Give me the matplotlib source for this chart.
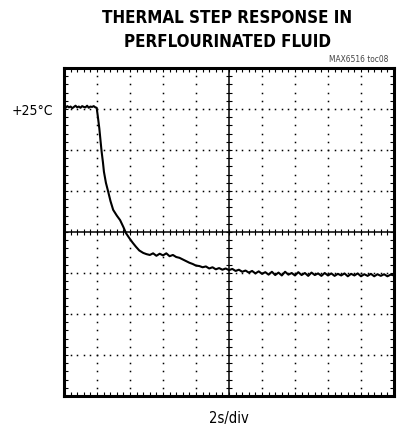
import numpy as np
import matplotlib
matplotlib.use("Agg")
import matplotlib.pyplot as plt

# scope trace (x in 2s divisions, y in vertical divisions)
tiempo_div = [
    0.00, 0.05, 0.10, 0.15, 0.20, 0.25, 0.30, 0.35, 0.40, 0.45,
    0.50, 0.55, 0.60, 0.65, 0.70, 0.75, 0.80, 0.85, 0.90, 0.95, 0.99,
    1.02, 1.07, 1.11, 1.14, 1.18, 1.21, 1.27, 1.34, 1.41, 1.49,
    1.60, 1.70, 1.80, 1.88, 1.98, 2.08, 2.18, 2.28, 2.40,
    2.5, 2.6, 2.7, 2.8, 2.9, 3.0, 3.1, 3.2, 3.3, 3.4,
    3.5, 3.6, 3.7, 3.8, 3.9, 4.0, 4.1, 4.2, 4.3, 4.4,
    4.5, 4.6, 4.7, 4.8, 4.9, 5.0, 5.1, 5.2, 5.3, 5.4,
    5.5, 5.6, 5.7, 5.8, 5.9, 6.0, 6.1, 6.2, 6.3, 6.4,
    6.5, 6.6, 6.7, 6.8, 6.9, 7.0, 7.1, 7.2, 7.3, 7.4,
    7.5, 7.6, 7.7, 7.8, 7.9, 8.0, 8.1, 8.2, 8.3, 8.4,
    8.5, 8.6, 8.7, 8.8, 8.9, 9.0, 9.1, 9.2, 9.3, 9.4,
    9.5, 9.6, 9.7, 9.8, 9.9, 10.0,
]
temp_div = [
    7.05, 7.03, 7.07, 7.04, 7.06, 7.02, 7.05, 7.08, 7.04, 7.06,
    7.03, 7.07, 7.05, 7.04, 7.08, 7.03, 7.06, 7.05, 7.07, 7.04, 7.03,
    6.85, 6.53, 6.20, 5.96, 5.70, 5.47, 5.20, 4.98, 4.75, 4.54,
    4.40, 4.29, 4.12, 3.97, 3.85, 3.74, 3.64, 3.55, 3.49,
    3.46, 3.44, 3.48, 3.42, 3.47, 3.43, 3.48, 3.41, 3.44, 3.39,
    3.37, 3.33, 3.29, 3.25, 3.22, 3.18, 3.17, 3.14, 3.16, 3.11,
    3.14, 3.09, 3.12, 3.08, 3.11, 3.07, 3.10, 3.05, 3.08, 3.03,
    3.06, 3.01, 3.05, 2.99, 3.04, 2.98, 3.02, 2.96, 3.03, 2.95,
    3.01, 2.94, 3.03, 2.96, 3.00, 2.94, 3.02, 2.95, 3.00, 2.93,
    3.01, 2.95, 2.99, 2.93, 3.00, 2.94, 2.99, 2.93, 2.98, 2.94,
    2.99, 2.92, 2.98, 2.94, 2.99, 2.92, 2.97, 2.93, 2.98, 2.92,
    2.97, 2.93, 2.97, 2.92, 2.96, 2.94,
]

titulo = "THERMAL STEP RESPONSE IN\nPERFLOURINATED FLUID"
etiqueta_y = "+25°C"
etiqueta_x = "2s/div"
codigo = "MAX6516 toc08"

fig = plt.figure(figsize=(4.08, 4.29), dpi=100)
ax = fig.add_axes([64 / 408, 1 - 396 / 429, 330 / 408, 328 / 429])

ax.set_xlim(0, 10)
ax.set_ylim(0, 8)

# dotted graticule (dots at every minor division)
paso = np.arange(0.2, 8.0, 0.2)
for gx in range(1, 10):
    if gx == 5:
        continue
    ax.plot(np.full_like(paso, gx), paso, ls="none", marker="s", ms=1.1,
            mec="none", color="black")
paso_x = np.arange(0.2, 10.0, 0.2)
for gy in range(1, 8):
    if gy == 4:
        continue
    ax.plot(paso_x, np.full_like(paso_x, gy), ls="none", marker="s", ms=1.1,
            mec="none", color="black")

# centre cross with small ticks
ax.axhline(4, color="black", lw=1.1)
ax.axvline(5, color="black", lw=1.1)
ax.plot(paso_x, np.full_like(paso_x, 4), ls="none", marker="|", ms=5,
        mew=0.8, color="black")
ax.plot(np.full_like(paso, 5), paso, ls="none", marker="_", ms=5,
        mew=0.8, color="black")

# the trace
ax.plot(tiempo_div, temp_div, color="black", lw=1.5)

ax.set_xticks(np.arange(0, 11, 1))
ax.set_yticks(np.arange(0, 9, 1))
ax.set_xticks(np.arange(0, 10.01, 0.2), minor=True)
ax.set_yticks(np.arange(0, 8.01, 0.2), minor=True)
ax.tick_params(which="both", direction="in", length=3, width=0.8,
               top=True, right=True, labelleft=False, labelbottom=False)
for s in ax.spines.values():
    s.set_linewidth(2.2)

fig.text(227 / 408, 1 - 30 / 429, titulo, ha="center", va="center",
         family="DejaVu Sans", stretch="condensed", weight="bold",
         fontsize=12.2, linespacing=1.45)
fig.text(388 / 408, 1 - 60 / 429, codigo, ha="right", va="center",
         family="DejaVu Sans", stretch="condensed", fontsize=6, color="#444444")
fig.text(53 / 408, 1 - 111 / 429, etiqueta_y, ha="right", va="center",
         family="DejaVu Sans", stretch="condensed", fontsize=10)
fig.text(229 / 408, 1 - 418 / 429, etiqueta_x, ha="center", va="center",
         family="DejaVu Sans", stretch="condensed", fontsize=10.5)

fig.savefig("out.png", dpi=100)
